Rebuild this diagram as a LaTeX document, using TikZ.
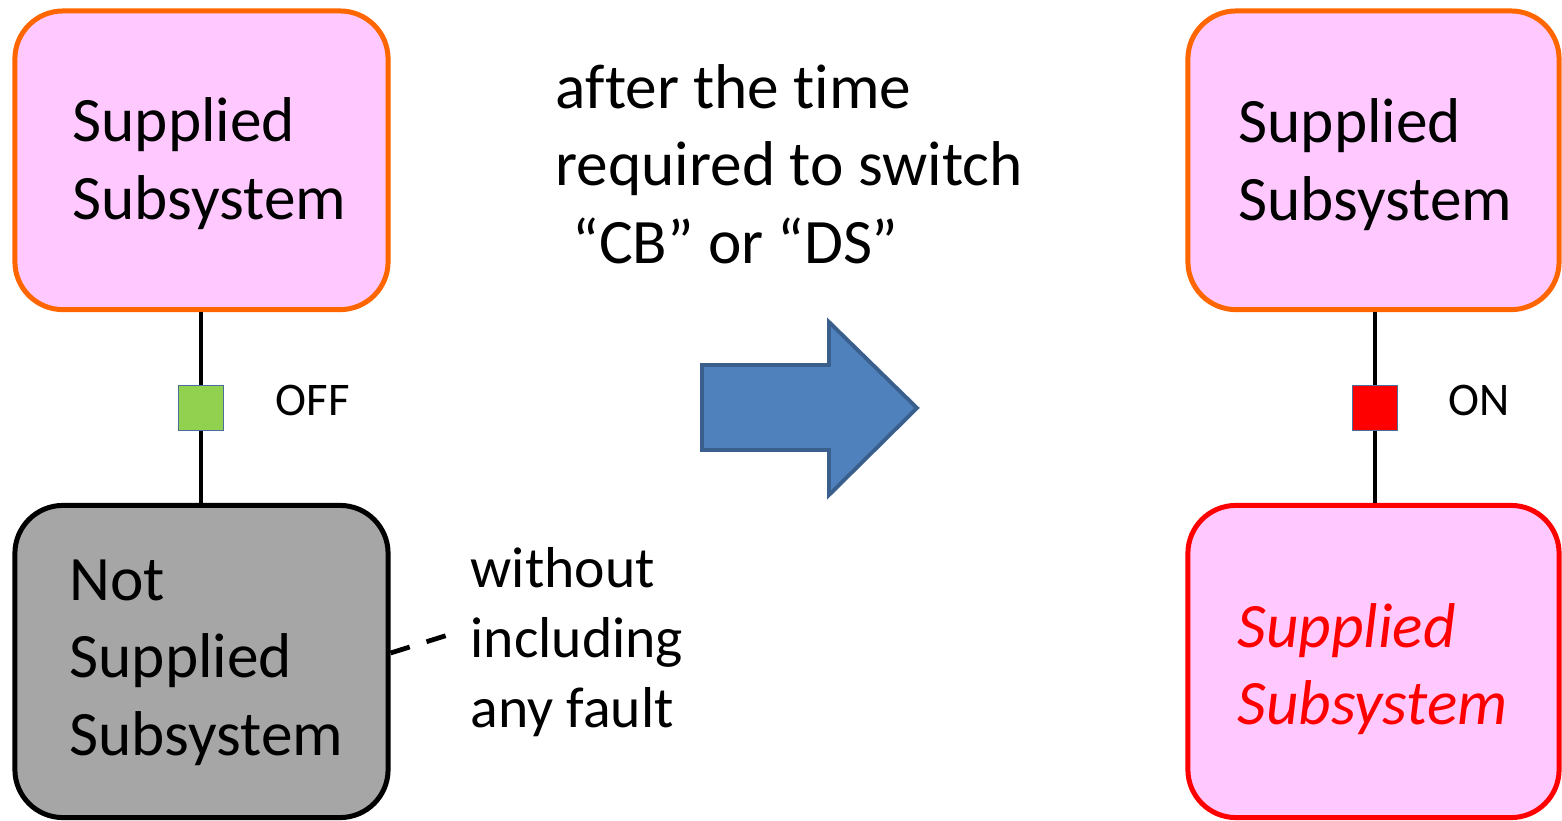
\documentclass[tikz,border=0pt]{standalone}
\usepackage{fontspec}
\setmainfont{Carlito}[Ligatures={TeX,NoCommon}]
\definecolor{boxorange}{HTML}{FF6600}
\definecolor{boxpink}{HTML}{FFC9FF}
\definecolor{boxgray}{HTML}{A6A6A6}
\definecolor{switchgreen}{HTML}{92D050}
\definecolor{switchedge}{HTML}{4A6F9C}
\definecolor{arrowfill}{HTML}{4F81BD}
\definecolor{arrowedge}{HTML}{3A5F8D}
\begin{document}
\begin{tikzpicture}[x=0.01cm,y=-0.01cm,
  subsys/.style={draw, rounded corners=0.48cm, line width=1.42pt,
    minimum width=3.73cm, inner sep=0pt},
  supplied/.style={subsys, draw=boxorange, fill=boxpink, minimum height=2.985cm},
  % multi-line texts are anchored at the baseline of their last line
  bigtext/.style={font=\fontsize{18pt}{21.9pt}\selectfont, align=left, inner sep=0pt, anchor=base west},
  sidetext/.style={font=\fontsize{16.4pt}{19.9pt}\selectfont, align=left, inner sep=0pt, anchor=base west},
  statetext/.style={font=\fontsize{13.3pt}{16pt}\selectfont, inner sep=0pt, anchor=base west},
  switchbox/.style={draw=switchedge, line width=0.5pt, minimum size=0.45cm, inner sep=0pt},
  wire/.style={line width=1.05pt}]
\useasboundingbox (0,0) rectangle (1562,821);

% left side: before switching
\node[supplied] (ltop) at (201.5,160.3) {};
\node[subsys, fill=boxgray, minimum height=3.12cm] (lbot) at (201.5,661.5) {};
\node[switchbox, fill=switchgreen] (lsw) at (201,408) {};
\draw[wire] (ltop.south -| lsw) -- (lsw.north);
\draw[wire] (lsw.south) -- (lbot.north -| lsw);
\node[bigtext] (ltoptext) at (72,219) {Supplied\\Subsystem};
\node[bigtext] (lbottext) at (69,755) {Not\\Supplied\\Subsystem};
\node[statetext] (off) at (275,416) {OFF};

% note on the dead subsystem
\coordinate (noteend) at (448,635);
\draw[line width=1.35pt, dash pattern=on 5.7pt off 5pt] ([yshift=0.085cm]lbot.east) -- (noteend);
\node[sidetext] (note) at (470,727) {without\\including\\any fault};

% transition
\node[bigtext] (delay) at (555,263) {after the time\\required to switch\\\hspace*{0.17cm}“CB” or “DS”};
\draw[line width=1.1pt, draw=arrowedge, fill=arrowfill, line join=miter]
  (702,365) -- (829,365) -- (829,322) -- (917,408) -- (829,495) -- (829,450) -- (702,450) -- cycle;

% right side: after switching
\node[supplied, minimum width=3.71cm] (rtop) at (1373.5,160.3) {};
\node[subsys, draw=red, fill=boxpink, minimum width=3.71cm, minimum height=3.12cm] (rbot) at (1373.5,661.5) {};
\node[switchbox, fill=red] (rsw) at (1375,408) {};
\draw[wire] (rtop.south -| rsw) -- (rsw.north);
\draw[wire] (rsw.south) -- (rbot.north -| rsw);
\node[bigtext] (rtoptext) at (1238,220) {Supplied\\Subsystem};
\node[bigtext, text=red, font=\fontsize{18pt}{21.9pt}\selectfont\itshape] (rbottext) at (1237,725) {Supplied\\Subsystem};
\node[statetext] (on) at (1448,416) {ON};
\end{tikzpicture}
\end{document}
